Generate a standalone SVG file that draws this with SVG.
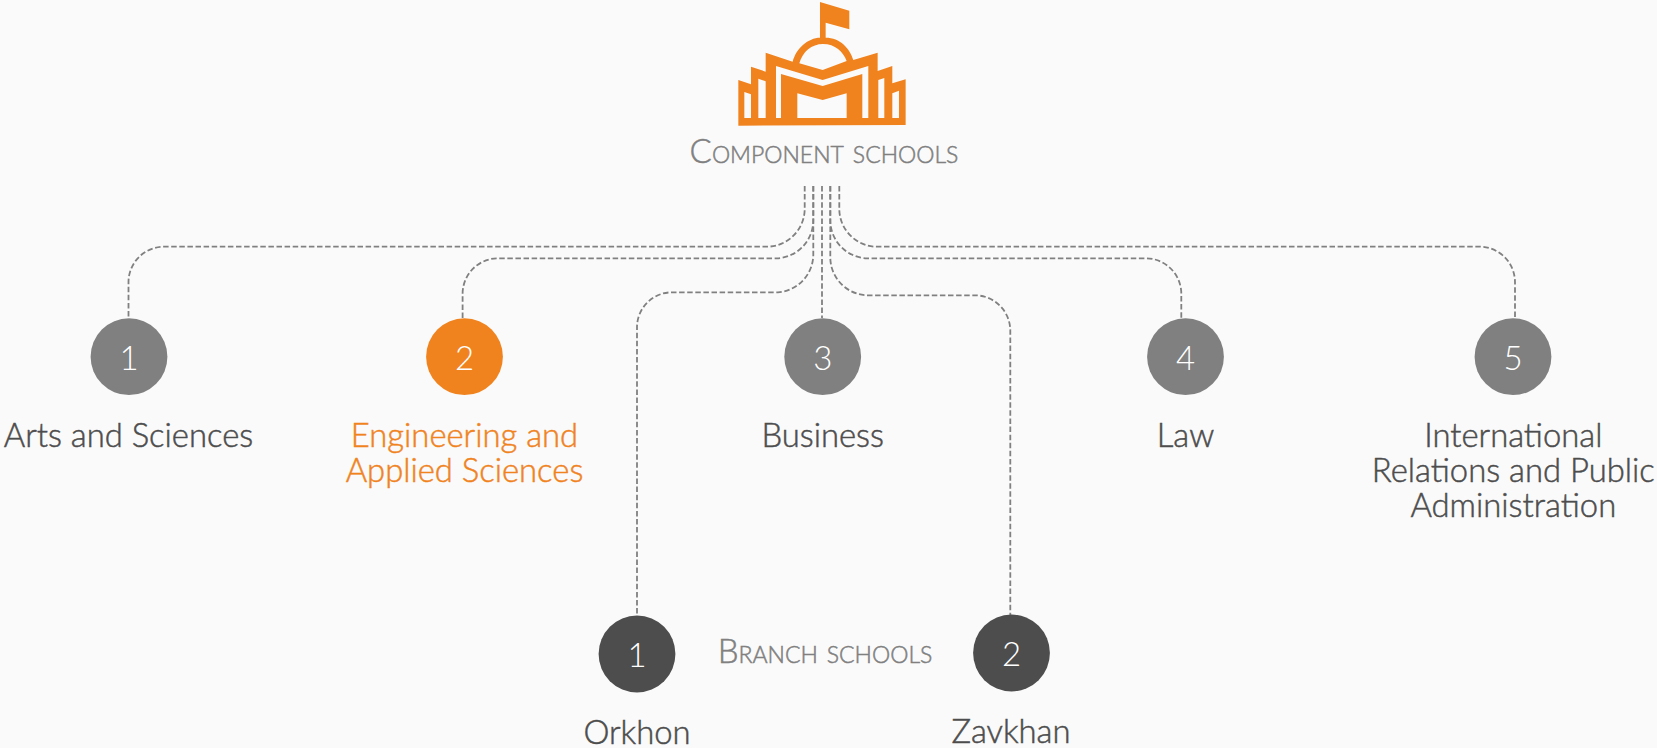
<svg xmlns="http://www.w3.org/2000/svg" width="1657" height="748" viewBox="0 0 1657 748">
<style>
text{font-family:"Lato","Carlito","Liberation Sans",sans-serif;text-anchor:middle}
.lbl{font-size:32.8px;font-weight:300;fill:#4d4d4d;stroke:#4d4d4d;stroke-width:.5}
.lbl.org{stroke:#f0831e}
.org{fill:#f0831e}
.num{font-size:33px;font-weight:300;fill:#fff}
.head{font-size:33px;font-weight:300;fill:#808080;stroke:#808080;stroke-width:.5;font-variant:small-caps}
.g{fill:#808080}.d{fill:#4d4d4d}
#connectors path{fill:none;stroke:#808080;stroke-width:1.8;stroke-dasharray:5.5 2.6}
</style>
<rect width="1657" height="748" fill="#fafafa"/>
<g id="connectors">
<path d="M804.7 186V208A38 38 0 0 1 767 246.7H164A35.5 35.5 0 0 0 128.5 282V318"/>
<path d="M813.3 186V220A38 38 0 0 1 777 258.3H498A35.5 35.5 0 0 0 462.6 294V318"/>
<path d="M813.3 186V254A38 38 0 0 1 778 292.3H672A35 35 0 0 0 637 327V616"/>
<path d="M822 186V318"/>
<path d="M830.3 186V220A38 38 0 0 0 867 258.3H1146A35.5 35.5 0 0 1 1181.3 294V318"/>
<path d="M830.3 186V257A38 38 0 0 0 868 295.3H975A35.5 35.5 0 0 1 1010.3 331V615"/>
<path d="M839.3 186V208A38 38 0 0 0 875 246.7H1479A35.5 35.5 0 0 1 1515 282V318"/>
</g>
<g id="logo">
<path class="org" fill-rule="evenodd" transform="translate(680 0) scale(.3333)" d="M420 6L508 32V88L437 68V113C480 113 510 145 520 180L593 158V213L637 198V250L677 238V375L175 377V240L213 253V200L257 215V158L338 185C348 145 385 113 420 113ZM358 190L428 210L500 183C490 155 465 132 429 132C395 132 368 155 358 190ZM193 276V354H213V283ZM235 236V354H257V244ZM288 198V354H303V222L428 258L547 222V354H565V198L428 240ZM352 280V354H500V280L428 300ZM595 240V354H613V234ZM637 280V354H657V272Z"/>
<text class="head" x="824" y="163.3">Component schools</text>
</g>
<g id="school-1"><circle class="g" cx="129" cy="356.7" r="38.4"/><text class="num" x="129" y="370">1</text><text class="lbl" x="128.5" y="446.7">Arts and Sciences</text></g>
<g id="school-2"><circle class="org" cx="464.5" cy="356.7" r="38.4"/><text class="num" x="464.5" y="370">2</text><text class="lbl org" x="464.5" y="446.7">Engineering and</text><text class="lbl org" x="464.5" y="481.7">Applied Sciences</text></g>
<g id="school-3"><circle class="g" cx="822.7" cy="356.7" r="38.4"/><text class="num" x="822.7" y="370">3</text><text class="lbl" x="822.7" y="446.7">Business</text></g>
<g id="school-4"><circle class="g" cx="1185.5" cy="356.7" r="38.4"/><text class="num" x="1185.5" y="370">4</text><text class="lbl" x="1185.5" y="446.7">Law</text></g>
<g id="school-5"><circle class="g" cx="1513" cy="356.7" r="38.4"/><text class="num" x="1513" y="370">5</text><text class="lbl" x="1513.3" y="446.7">International</text><text class="lbl" x="1513.3" y="481.7">Relations and Public</text><text class="lbl" x="1513.3" y="516.7">Administration</text></g>
<g id="branch-1"><circle class="d" cx="637" cy="654" r="38.4"/><text class="num" x="637" y="667">1</text><text class="lbl" x="637" y="744">Orkhon</text></g>
<text class="head" x="825" y="662.7" id="branch-title">Branch schools</text>
<g id="branch-2"><circle class="d" cx="1011.5" cy="653" r="38.4"/><text class="num" x="1011.5" y="666">2</text><text class="lbl" x="1011" y="743">Zavkhan</text></g>
</svg>
